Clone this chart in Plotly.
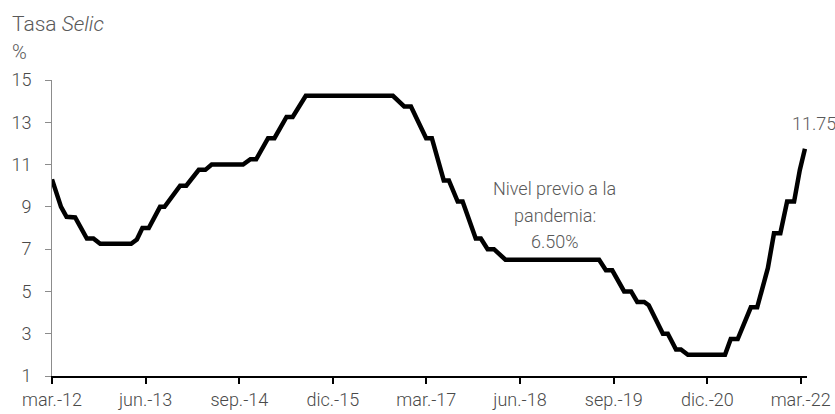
import plotly.graph_objects as go

# Selic rate (%) (knots of the plotted line)
dates = [
    "2012-03-01", "2012-04-14", "2012-05-11", "2012-06-22", "2012-08-18", "2012-09-19",
    "2012-10-22", "2013-03-22", "2013-04-19", "2013-05-16", "2013-06-16", "2013-08-10",
    "2013-09-01", "2013-11-16", "2013-12-16", "2014-02-15", "2014-03-19", "2014-04-19",
    "2014-09-19", "2014-10-25", "2014-11-22", "2015-01-19", "2015-02-19", "2015-04-19",
    "2015-05-19", "2015-07-22", "2016-09-19", "2016-11-13", "2016-12-16", "2017-02-28",
    "2017-03-28", "2017-05-25", "2017-06-19", "2017-08-01", "2017-08-25", "2017-10-28",
    "2017-11-22", "2017-12-25", "2018-01-25", "2018-03-22", "2019-06-22", "2019-07-25",
    "2019-08-25", "2019-10-22", "2019-11-25", "2019-12-25", "2020-01-28", "2020-02-19",
    "2020-03-10", "2020-04-28", "2020-05-22", "2020-07-01", "2020-07-25", "2020-08-28",
    "2021-02-25", "2021-03-25", "2021-04-28", "2021-07-01", "2021-08-01", "2021-09-22",
    "2021-10-22", "2021-11-22", "2021-12-25", "2022-01-28", "2022-02-25", "2022-03-22",
]
selic = [
    10.30, 9.00, 8.53, 8.50, 7.50, 7.50,
    7.25, 7.25, 7.46, 8.00, 8.00, 9.00,
    9.00, 10.00, 10.00, 10.75, 10.75, 11.00,
    11.00, 11.25, 11.25, 12.25, 12.25, 13.25,
    13.25, 14.25, 14.25, 13.75, 13.75, 12.25,
    12.25, 10.25, 10.25, 9.25, 9.25, 7.50,
    7.50, 7.00, 7.00, 6.50, 6.50, 6.00,
    6.00, 5.00, 5.00, 4.50, 4.50, 4.35,
    3.96, 3.00, 3.00, 2.25, 2.25, 2.00,
    2.00, 2.75, 2.75, 4.25, 4.25, 6.10,
    7.75, 7.75, 9.25, 9.25, 10.75, 11.75,
]

tick_dates = ["2012-03-01", "2013-06-01", "2014-09-01", "2015-12-01", "2017-03-01",
              "2018-06-01", "2019-09-01", "2020-12-01", "2022-03-01"]
tick_labels = ["mar.-12", "jun.-13", "sep.-14", "dic.-15", "mar.-17",
               "jun.-18", "sep.-19", "dic.-20", "mar.-22"]
y_ticks = [1, 3, 5, 7, 9, 11, 13, 15]

note_lines = ["Nivel previo a la", "pandemia:", "6.50%"]
note_date = "2018-11-18"
note_levels = [9.85, 8.6, 7.35]
last_label = "11.75"

FONT = "Roboto"
TXT = "#4a4a4a"
NOTE = "#595959"

fig = go.Figure()
fig.add_trace(go.Scatter(
    x=dates, y=selic, mode="lines",
    line=dict(color="black", width=4.5),
    hoverinfo="skip", showlegend=False,
))

for txt, lv in zip(note_lines, note_levels):
    fig.add_annotation(x=note_date, y=lv, text=txt, showarrow=False,
                       font=dict(family=FONT, size=18, color=NOTE, weight=300),
                       xanchor="center", yanchor="middle")

fig.add_annotation(x=dates[-1], y=12.92, text=last_label, showarrow=False,
                   font=dict(family=FONT, size=18, color=NOTE, weight=300),
                   xanchor="center", yanchor="middle", xshift=9)

fig.add_annotation(xref="paper", yref="paper", x=-0.056, y=1.0, yshift=56,
                   text="Tasa <i>Selic</i>", showarrow=False, xanchor="left", yanchor="middle",
                   font=dict(family=FONT, size=21, color=NOTE, weight=300))
fig.add_annotation(xref="paper", yref="paper", x=-0.056, y=1.0, yshift=28,
                   text="%", showarrow=False, xanchor="left", yanchor="middle",
                   font=dict(family=FONT, size=20, color=NOTE, weight=300))

fig.update_layout(
    width=835, height=414,
    margin=dict(l=52, r=28, t=80, b=38),
    paper_bgcolor="white", plot_bgcolor="white",
    font=dict(family=FONT, size=18, color=TXT, weight=300),
)
fig.update_xaxes(
    type="date", range=["2012-03-01", "2022-04-01"],
    tickvals=tick_dates, ticktext=tick_labels,
    showgrid=False, zeroline=False,
    showline=True, linecolor="black", linewidth=2,
    ticks="outside", ticklen=6, tickwidth=2, tickcolor="black",
    tickfont=dict(family=FONT, size=18, color=TXT, weight=300),
    automargin=False,
)
fig.update_yaxes(
    range=[1, 15], tickvals=y_ticks,
    showgrid=False, zeroline=False,
    showline=True, linecolor="#8c8c8c", linewidth=1,
    ticks="outside", ticklen=6, tickwidth=1, tickcolor="#8c8c8c",
    tickfont=dict(family=FONT, size=18, color=TXT, weight=300),
    ticklabelstandoff=10, automargin=False,
)

fig.write_html("out.html")
